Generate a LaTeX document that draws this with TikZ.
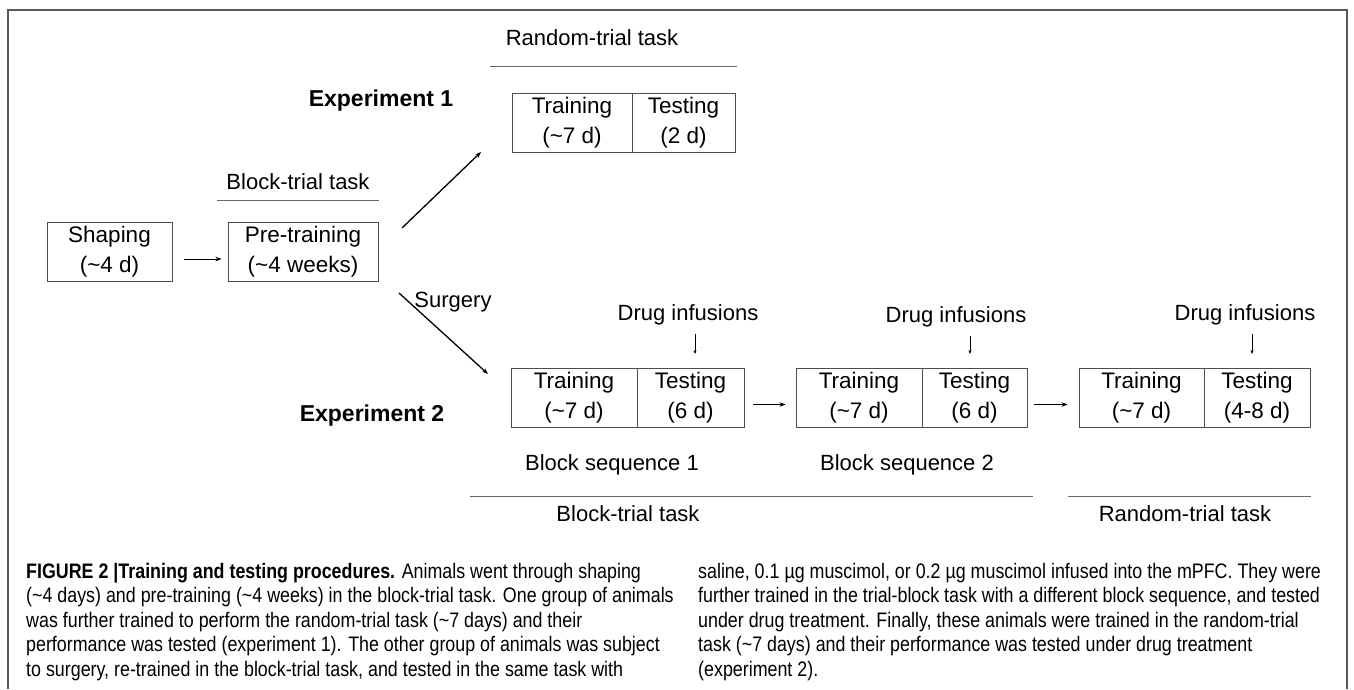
\documentclass[tikz,border=0pt]{standalone}
\usepackage{fontspec}
\setmainfont{Liberation Sans}
\newfontfamily\capfont[FakeStretch=0.85]{Liberation Sans}
\usetikzlibrary{arrows.meta}
\begin{document}
\begin{tikzpicture}[x=1pt,y=-1pt,
  lbl/.style={font=\fontsize{22}{26}\selectfont, inner sep=0pt},
  bold lbl/.style={font=\fontsize{23}{26}\selectfont\bfseries, inner sep=0pt},
  cell/.style={draw=black!70, line width=0.9pt, inner sep=0pt, align=center,
    font=\fontsize{22.5}{30}\selectfont, minimum height=59},
  rule/.style={draw=black!60, line width=1pt},
  arr/.style={line width=1pt, -{Stealth[length=6pt,width=4.5pt]}},
  diag/.style={line width=1.3pt, -{Stealth[length=6pt,width=4.5pt]}},
  drug/.style={line width=0.6pt, -{Stealth[length=4pt,width=3pt]}},
  capline/.style={anchor=base west, inner sep=0pt, font=\capfont\fontsize{21}{24}\selectfont}
]
\useasboundingbox (0,0) rectangle (1354,689);
\fill[white] (0,0) rectangle (1354,689);
% frame
\draw[draw=black!65, line width=1.5pt] (8,689) -- (8,10) -- (1347,10) -- (1347,689);

% top part
\node[lbl] (rt1) at (592,38) {Random-trial task};
\draw[rule] (490,66) -- (737,66);
\node[bold lbl] (ex1) at (381,101) {Experiment 1};
\node[cell, minimum width=120] (e1a) at (572,122.5) {Training\\(\textasciitilde7 d)};
\node[cell, minimum width=103] (e1b) at (683.5,122.5) {Testing\\(2 d)};

\node[lbl] (bt1) at (298,182) {Block-trial task};
\draw[rule] (217,200) -- (379,200);
\node[cell, minimum width=125] (shp) at (109.5,252) {Shaping\\(\textasciitilde4 d)};
\node[cell, minimum width=150] (pre) at (303,252) {Pre-training\\(\textasciitilde4 weeks)};
\draw[arr] ([xshift=12pt,yshift=-7pt]shp.east) -- ([xshift=-6pt,yshift=-7pt]pre.west);

\coordinate (u0) at (402,228);
\coordinate (u1) at (481,152);
\coordinate (d0) at (399,293);
\coordinate (d1) at (488,374);
\draw[diag] (u0) -- (u1);
\draw[diag] (d0) -- (d1);
\node[lbl] (surg) at (453,302) {Surgery};

% experiment 2
\node[bold lbl] (ex2) at (372,416) {Experiment 2};
\node[cell, minimum width=126] (a1) at (574,398) {Training\\(\textasciitilde7 d)};
\node[cell, minimum width=107] (b1) at (690.5,398) {Testing\\(6 d)};
\node[cell, minimum width=126] (a2) at (859,398) {Training\\(\textasciitilde7 d)};
\node[cell, minimum width=105] (b2) at (974.5,398) {Testing\\(6 d)};
\node[cell, minimum width=125] (a3) at (1141.5,398) {Training\\(\textasciitilde7 d)};
\node[cell, minimum width=106] (b3) at (1257,398) {Testing\\(4-8 d)};
\draw[arr] ([xshift=9pt,yshift=-6.5pt]b1.east) -- ([xshift=-10pt,yshift=-6.5pt]a2.west);
\draw[arr] ([xshift=7pt,yshift=-6.5pt]b2.east) -- ([xshift=-11pt,yshift=-6.5pt]a3.west);

\node[lbl] (dr1) at (688,315) {Drug infusions};
\node[lbl] (dr2) at (956,317) {Drug infusions};
\node[lbl] (dr3) at (1245,315) {Drug infusions};
\draw[drug] ([xshift=4.5pt]b1.north |- 0,334) -- ([yshift=14pt,xshift=4.5pt]b1.north);
\draw[drug] ([xshift=-4.5pt]b2.north |- 0,336) -- ([yshift=14pt,xshift=-4.5pt]b2.north);
\draw[drug] ([xshift=-5pt]b3.north |- 0,334) -- ([yshift=14pt,xshift=-5pt]b3.north);

\node[lbl] (bs1) at (612,465) {Block sequence 1};
\node[lbl] (bs2) at (907,465) {Block sequence 2};
\draw[rule] (470,496) -- (1033,496);
\draw[rule] (1068,496) -- (1311,496);
\node[lbl] (bt2) at (628,514) {Block-trial task};
\node[lbl] (rt2) at (1185,514) {Random-trial task};

% caption
\node[capline] (cl1) at (26,578) {\textbf{FIGURE 2 |Training and testing procedures.} Animals went through shaping};
\node[capline] (cl2) at (26,602.5) {(\textasciitilde4 days) and pre-training (\textasciitilde4 weeks) in the block-trial task. One group of animals};
\node[capline] (cl3) at (26,627) {was further trained to perform the random-trial task (\textasciitilde7 days) and their};
\node[capline] (cl4) at (26,651.5) {performance was tested (experiment 1). The other group of animals was subject};
\node[capline] (cl5) at (26,676) {to surgery, re-trained in the block-trial task, and tested in the same task with};
\node[capline] (cr1) at (698,578) {saline, 0.1 µg muscimol, or 0.2 µg muscimol infused into the mPFC. They were};
\node[capline] (cr2) at (698,602.5) {further trained in the trial-block task with a different block sequence, and tested};
\node[capline] (cr3) at (698,627) {under drug treatment. Finally, these animals were trained in the random-trial};
\node[capline] (cr4) at (698,651.5) {task (\textasciitilde7 days) and their performance was tested under drug treatment};
\node[capline] (cr5) at (698,676) {(experiment 2).};
\end{tikzpicture}
\end{document}
